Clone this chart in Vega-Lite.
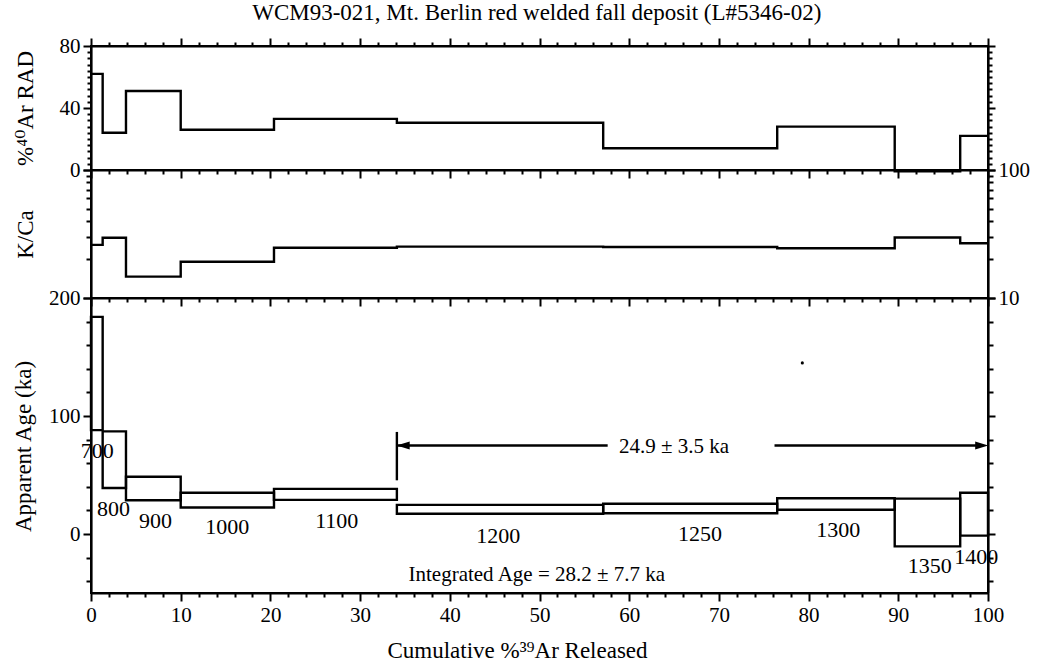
{
  "$schema": "https://vega.github.io/schema/vega-lite/v6.json",
  "background": "white",
  "padding": {"left": 11, "top": 2, "right": 4, "bottom": 2},
  "bounds": "flush",
  "spacing": 0,
  "title": {"text": "WCM93-021, Mt. Berlin red welded fall deposit (L#5346-02)", "anchor": "middle", "dx": 16, "font": "Times New Roman, Liberation Serif, DejaVu Serif, serif", "fontSize": 23, "fontWeight": "normal", "color": "black", "offset": 9},
  "config": {
    "font": "Times New Roman, Liberation Serif, DejaVu Serif, serif",
    "view": {"stroke": "black", "strokeWidth": 2},
    "axis": {"domainColor": "black", "domainWidth": 2.2, "tickColor": "black", "tickWidth": 2, "labelColor": "black", "labelFont": "Times New Roman, Liberation Serif, DejaVu Serif, serif", "labelFontSize": 21, "titleFont": "Times New Roman, Liberation Serif, DejaVu Serif, serif", "titleFontSize": 23, "titleFontWeight": "normal", "titleColor": "black", "grid": false, "labelPadding": 3, "labelOverlap": false, "labelFlush": false}
  },
  "datasets": {
    "steps": [
      {"step": 1, "temp": "700", "x0": 0, "x1": 1.3, "ar": 62, "kca": 26, "lo": 88, "hi": 184},
      {"step": 2, "temp": "800", "x0": 1.3, "x1": 3.9, "ar": 24, "kca": 29.6, "lo": 39, "hi": 87},
      {"step": 3, "temp": "900", "x0": 3.9, "x1": 10, "ar": 51, "kca": 14.7, "lo": 28.6, "hi": 48.5},
      {"step": 4, "temp": "1000", "x0": 10, "x1": 20.4, "ar": 26, "kca": 19.2, "lo": 22.4, "hi": 35},
      {"step": 5, "temp": "1100", "x0": 20.4, "x1": 34.1, "ar": 33, "kca": 24.7, "lo": 28.9, "hi": 38.2},
      {"step": 6, "temp": "1200", "x0": 34.1, "x1": 57.1, "ar": 30.5, "kca": 25.2, "lo": 17.2, "hi": 24.7},
      {"step": 7, "temp": "1250", "x0": 57.1, "x1": 76.5, "ar": 14, "kca": 25, "lo": 17.6, "hi": 25.6},
      {"step": 8, "temp": "1300", "x0": 76.5, "x1": 89.6, "ar": 28, "kca": 24.5, "lo": 20.5, "hi": 30.3},
      {"step": 9, "temp": "1350", "x0": 89.6, "x1": 96.9, "ar": -0.8, "kca": 29.7, "lo": -10.5, "hi": 30},
      {"step": 10, "temp": "1400", "x0": 96.9, "x1": 100, "ar": 22, "kca": 26.8, "lo": -1.4, "hi": 35}
    ],
    "labels": [
      {"text": "700", "x": 0.7, "y": 70},
      {"text": "800", "x": 2.5, "y": 21},
      {"text": "900", "x": 7.2, "y": 11},
      {"text": "1000", "x": 15.2, "y": 5.6},
      {"text": "1100", "x": 27.4, "y": 11.2},
      {"text": "1200", "x": 45.4, "y": -1.4},
      {"text": "1250", "x": 67.9, "y": 0},
      {"text": "1300", "x": 83.3, "y": 3.4},
      {"text": "1350", "x": 93.5, "y": -26.7},
      {"text": "1400", "x": 98.7, "y": -19.7}
    ],
    "plateau": [
      {"x": 34.1, "x2": 57.6, "y": 75, "y2": 75},
      {"x": 76.2, "x2": 99, "y": 75, "y2": 75},
      {"x": 34.1, "x2": 34.1, "y": 45.5, "y2": 86.5}
    ],
    "arrows": [
      {"x": 34.8, "y": 75, "shape": "M-1,0L1,-0.6L1,0.6Z"},
      {"x": 99.3, "y": 75, "shape": "M1,0L-1,-0.6L-1,0.6Z"}
    ],
    "notes": [
      {"x": 65.0, "y": 74, "text": "24.9 ± 3.5 ka"},
      {"x": 49.7, "y": -35, "text": "Integrated Age = 28.2 ± 7.7 ka"}
    ],
    "specks": [
      {"x": 79.3, "y": 145}
    ]
  },
  "vconcat": [
    {
      "width": 897,
      "height": 124,
      "data": {"name": "steps"},
      "layer": [
        {
          "transform": [{"fold": ["x0", "x1"], "as": ["edge", "xpos"]}],
          "mark": {"type": "line", "color": "black", "strokeWidth": 2.4, "strokeJoin": "miter"},
          "encoding": {
            "x": {"field": "xpos", "type": "quantitative", "scale": {"domain": [0, 100], "nice": false, "zero": false},
              "axis": {"orient": "top", "values": [0,2,4,6,8,10,12,14,16,18,20,22,24,26,28,30,32,34,36,38,40,42,44,46,48,50,52,54,56,58,60,62,64,66,68,70,72,74,76,78,80,82,84,86,88,90,92,94,96,98,100], "labels": false, "title": null,
                "tickSize": {"condition": {"test": "datum.value % 10 === 0", "value": 8}, "value": 4}}},
            "y": {"field": "ar", "type": "quantitative", "scale": {"domain": [0, 80], "nice": false},
              "axis": {"orient": "left", "values": [0,4,8,12,16,20,24,28,32,36,40,44,48,52,56,60,64,68,72,76,80],
                "labelExpr": "datum.value % 40 === 0 ? datum.label : ''",
                "tickSize": {"condition": {"test": "datum.value % 40 === 0", "value": 8}, "value": 4},
                "title": "%⁴⁰Ar RAD", "titleX": -66, "titleY": 62, "titleBaseline": "middle", "titleAngle": -90}},
            "order": [{"field": "step", "type": "quantitative"}, {"field": "edge", "type": "nominal"}]
          }
        },
        {
          "mark": {"type": "point", "opacity": 0},
          "encoding": {
            "x": {"field": "x0", "type": "quantitative", "scale": {"domain": [0, 100], "nice": false, "zero": false},
              "axis": {"orient": "bottom", "values": [0,2,4,6,8,10,12,14,16,18,20,22,24,26,28,30,32,34,36,38,40,42,44,46,48,50,52,54,56,58,60,62,64,66,68,70,72,74,76,78,80,82,84,86,88,90,92,94,96,98,100], "labels": false, "title": null,
                "tickSize": {"condition": {"test": "datum.value % 10 === 0", "value": 8}, "value": 4}}},
            "y": {"field": "ar", "type": "quantitative", "scale": {"domain": [0, 80], "nice": false},
              "axis": {"orient": "right", "values": [0,4,8,12,16,20,24,28,32,36,40,44,48,52,56,60,64,68,72,76,80], "labels": false, "title": null,
                "tickSize": {"condition": {"test": "datum.value % 40 === 0", "value": 7}, "value": 4}}}
          }
        }
      ],
      "resolve": {"axis": {"x": "independent", "y": "independent"}}
    },
    {
      "width": 897,
      "height": 128,
      "data": {"name": "steps"},
      "layer": [
        {
          "transform": [{"fold": ["x0", "x1"], "as": ["edge", "xpos"]}],
          "mark": {"type": "line", "color": "black", "strokeWidth": 2.4, "strokeJoin": "miter"},
          "encoding": {
            "x": {"field": "xpos", "type": "quantitative", "scale": {"domain": [0, 100], "nice": false, "zero": false},
              "axis": {"orient": "bottom", "values": [0,2,4,6,8,10,12,14,16,18,20,22,24,26,28,30,32,34,36,38,40,42,44,46,48,50,52,54,56,58,60,62,64,66,68,70,72,74,76,78,80,82,84,86,88,90,92,94,96,98,100], "labels": false, "title": null,
                "tickSize": {"condition": {"test": "datum.value % 10 === 0", "value": 8}, "value": 4}}},
            "y": {"field": "kca", "type": "quantitative", "scale": {"type": "log", "domain": [10, 100], "nice": false},
              "axis": {"orient": "left", "values": [10,20,30,40,50,60,70,80,90,100], "labels": false,
                "tickSize": {"condition": {"test": "datum.value === 10 || datum.value === 100", "value": 8}, "value": 5},
                "title": "K/Ca", "titleX": -66, "titleY": 64, "titleBaseline": "middle", "titleAngle": -90}},
            "order": [{"field": "step", "type": "quantitative"}, {"field": "edge", "type": "nominal"}]
          }
        },
        {
          "mark": {"type": "point", "opacity": 0},
          "encoding": {
            "x": {"field": "x0", "type": "quantitative", "scale": {"domain": [0, 100], "nice": false, "zero": false}, "axis": null},
            "y": {"field": "kca", "type": "quantitative", "scale": {"type": "log", "domain": [10, 100], "nice": false},
              "axis": {"orient": "right", "values": [10,20,30,40,50,60,70,80,90,100],
                "labelExpr": "datum.value === 10 || datum.value === 100 ? datum.label : ''",
                "tickSize": {"condition": {"test": "datum.value === 10 || datum.value === 100", "value": 7}, "value": 5},
                "title": null}}
          }
        }
      ],
      "resolve": {"axis": {"x": "independent", "y": "independent"}}
    },
    {
      "width": 897,
      "height": 295,
      "layer": [
        {
          "data": {"name": "steps"},
          "mark": {"type": "rect", "fill": null, "fillOpacity": 0, "stroke": "black", "strokeWidth": 2.4},
          "encoding": {
            "x": {"field": "x0", "type": "quantitative", "scale": {"domain": [0, 100], "nice": false, "zero": false},
              "axis": {"orient": "bottom", "values": [0,2,4,6,8,10,12,14,16,18,20,22,24,26,28,30,32,34,36,38,40,42,44,46,48,50,52,54,56,58,60,62,64,66,68,70,72,74,76,78,80,82,84,86,88,90,92,94,96,98,100],
                "labelExpr": "datum.value % 10 === 0 ? datum.label : ''",
                "tickSize": {"condition": {"test": "datum.value % 10 === 0", "value": 8}, "value": 4},
                "title": "Cumulative %³⁹Ar Released", "titlePadding": 14, "titleX": 426}},
            "x2": {"field": "x1"},
            "y": {"field": "lo", "type": "quantitative", "scale": {"domain": [-50, 200], "nice": false, "zero": false},
              "axis": {"orient": "left", "values": [-40,-20,0,20,40,60,80,100,120,140,160,180,200],
                "labelExpr": "datum.value % 100 === 0 ? datum.label : ''",
                "tickSize": {"condition": {"test": "datum.value % 100 === 0", "value": 8}, "value": 5},
                "title": "Apparent Age (ka)", "titleX": -68, "titleY": 148, "titleBaseline": "middle", "titleAngle": -90}},
            "y2": {"field": "hi"}
          }
        },
        {
          "data": {"name": "labels"},
          "mark": {"type": "text", "font": "Times New Roman, Liberation Serif, DejaVu Serif, serif", "fontSize": 22, "color": "black", "align": "center", "baseline": "middle"},
          "encoding": {
            "x": {"field": "x", "type": "quantitative", "scale": {"domain": [0, 100], "nice": false, "zero": false}, "axis": null},
            "y": {"field": "y", "type": "quantitative", "scale": {"domain": [-50, 200], "nice": false, "zero": false},
              "axis": {"orient": "right", "values": [-40,-20,0,20,40,60,80,100,120,140,160,180,200], "labels": false, "title": null,
                "tickSize": {"condition": {"test": "datum.value % 100 === 0", "value": 7}, "value": 5}}},
            "text": {"field": "text", "type": "nominal"}
          }
        },
        {
          "data": {"name": "plateau"},
          "mark": {"type": "rule", "color": "black", "strokeWidth": 2.4},
          "encoding": {
            "x": {"field": "x", "type": "quantitative", "scale": {"domain": [0, 100], "nice": false, "zero": false}, "axis": null},
            "x2": {"field": "x2"},
            "y": {"field": "y", "type": "quantitative", "scale": {"domain": [-50, 200], "nice": false, "zero": false}, "axis": null},
            "y2": {"field": "y2"}
          }
        },
        {
          "data": {"name": "arrows"},
          "mark": {"type": "point", "filled": true, "color": "black", "opacity": 1, "size": 170},
          "encoding": {
            "x": {"field": "x", "type": "quantitative", "scale": {"domain": [0, 100], "nice": false, "zero": false}, "axis": null},
            "y": {"field": "y", "type": "quantitative", "scale": {"domain": [-50, 200], "nice": false, "zero": false}, "axis": null},
            "shape": {"field": "shape", "type": "nominal", "scale": null}
          }
        },
        {
          "data": {"name": "notes"},
          "mark": {"type": "text", "font": "Times New Roman, Liberation Serif, DejaVu Serif, serif", "fontSize": 21, "color": "black", "align": "center", "baseline": "middle"},
          "encoding": {
            "x": {"field": "x", "type": "quantitative", "scale": {"domain": [0, 100], "nice": false, "zero": false}, "axis": null},
            "y": {"field": "y", "type": "quantitative", "scale": {"domain": [-50, 200], "nice": false, "zero": false}, "axis": null},
            "text": {"field": "text", "type": "nominal"}
          }
        },
        {
          "data": {"name": "specks"},
          "mark": {"type": "circle", "color": "black", "opacity": 1, "size": 10},
          "encoding": {
            "x": {"field": "x", "type": "quantitative", "scale": {"domain": [0, 100], "nice": false, "zero": false}, "axis": null},
            "y": {"field": "y", "type": "quantitative", "scale": {"domain": [-50, 200], "nice": false, "zero": false}, "axis": null}
          }
        }
      ],
      "resolve": {"axis": {"x": "independent", "y": "independent"}}
    }
  ]
}
